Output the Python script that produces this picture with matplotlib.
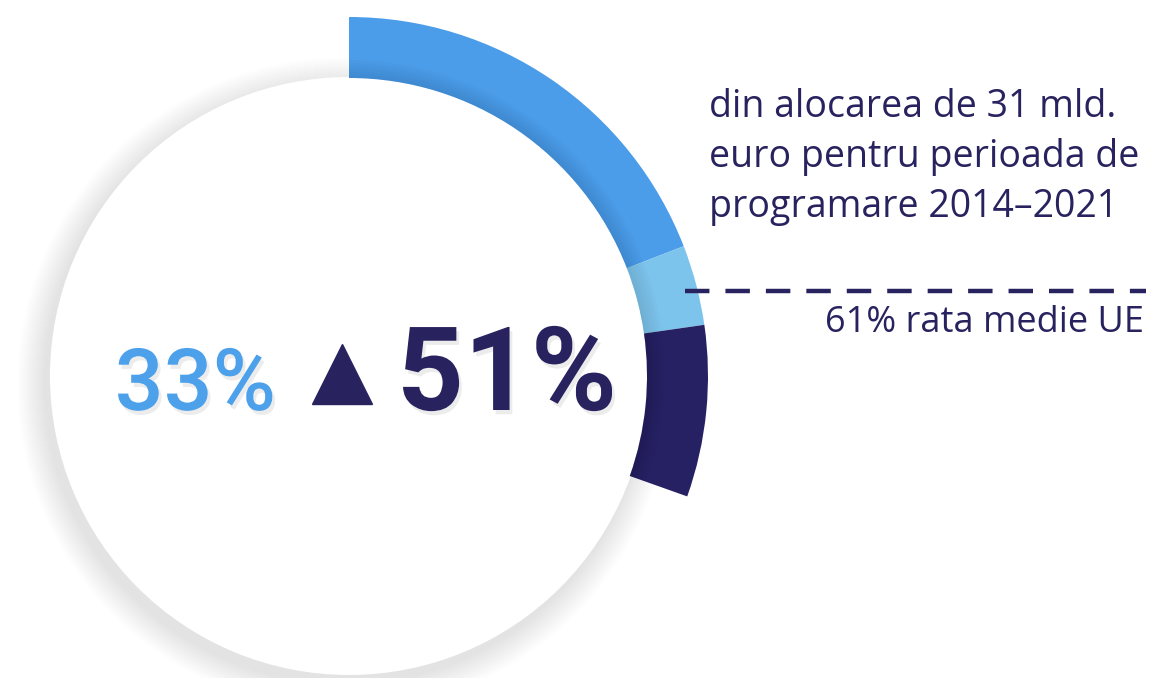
import matplotlib
matplotlib.use("Agg")
import matplotlib.pyplot as plt
from matplotlib.patches import Wedge, Circle
import matplotlib.patheffects as pe

# ring segments, angular span in degrees (clockwise from 12 o'clock)
segment_span = [68.8, 13.0, 27.8]
segment_colors = ["#4B9CE9", "#7CC4EC", "#262163"]

big_left = "33%"
big_right = "51%"
desc_lines = ["din alocarea de 31 mld.", "euro pentru perioada de", "programare 2014\u20132021"]
avg_label = "61% rata medie UE"

W, H = 1154, 678
fig = plt.figure(figsize=(W / 100, H / 100), dpi=100)
ax = fig.add_axes([0, 0, 1, 1])
ax.set_xlim(0, W)
ax.set_ylim(0, H)
ax.set_aspect("equal")
ax.axis("off")

cx, cy = 349, H - 376
r_in, r_out, r_disc = 298, 359, 299
navy = "#28235F"

# soft shadow around the white disc
for k in range(28, 0, -1):
    ax.add_patch(Circle((cx - 5, cy - 8), r_disc + k, color="#000000",
                        alpha=0.0035, lw=0, zorder=1))
ax.add_patch(Circle((cx, cy), r_disc, color="white", lw=0, zorder=2))

# ring
start = 90.0
for span, col in zip(segment_span, segment_colors):
    end = start - span
    ax.add_patch(Wedge((cx, cy), r_out, end, start, width=r_out - r_in,
                       color=col, lw=0, zorder=3))
    # slight darkening towards the inner edge
    for j in range(6):
        ax.add_patch(Wedge((cx, cy), r_in + 3 + j * 3, end, start, width=3 + j * 3,
                           color="black", alpha=0.015, lw=0, zorder=4))
    start = end

shadow = [pe.SimplePatchShadow(offset=(2, -3), shadow_rgbFace="#999999", alpha=0.18), pe.Normal()]

ax.text(276, H - 410, big_left, fontsize=62, family="Roboto", weight="medium",
        color="#4DA1EB", ha="right", va="baseline", zorder=5, path_effects=shadow)
ax.plot([342], [H - 374], marker="^", markersize=43, color=navy, mec=navy, zorder=5)
ax.text(397, H - 410, big_right, fontsize=84, family="Roboto", weight="bold",
        color=navy, ha="left", va="baseline", zorder=5, path_effects=shadow)

for i, line in enumerate(desc_lines):
    ax.text(709, H - 117 - i * 50, line, fontsize=27, family="Open Sans",
            color=navy, ha="left", va="baseline")

ax.plot([685, 1146], [H - 291, H - 291], color=navy, lw=3.2,
        dashes=(5.5, 3.6), solid_capstyle="butt", dash_capstyle="butt", zorder=6)
ax.text(1144, H - 332, avg_label, fontsize=26, family="Open Sans",
        color=navy, ha="right", va="baseline")

fig.savefig("out.png", dpi=100, facecolor="white")
